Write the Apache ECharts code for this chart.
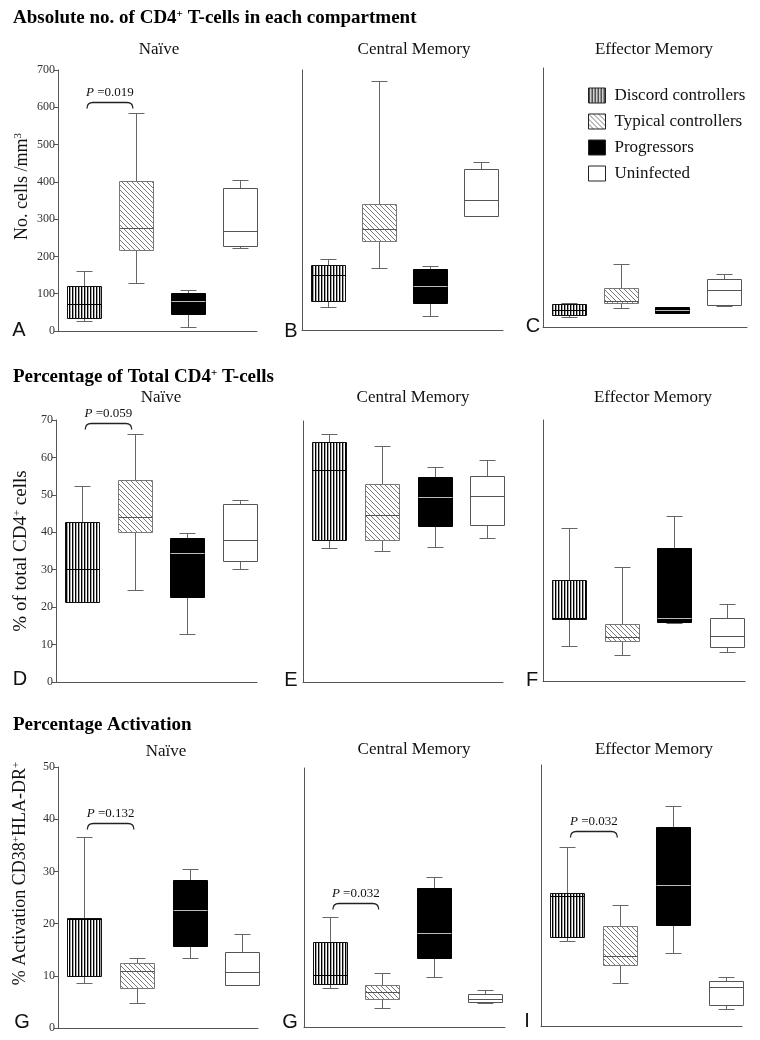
<!DOCTYPE html>
<html><head><meta charset="utf-8">
<script src="https://cdn.jsdelivr.net/npm/echarts@6/dist/echarts.min.js"></script>
<style>html,body{margin:0;padding:0;background:#fff}#chart{width:760px;height:1040px}</style>
</head><body><div id="chart"></div>
<script>
// ---------------- DATA ----------------
const groups = ['Discord controllers', 'Typical controllers', 'Progressors', 'Uninfected'];
const compartments = ['Naïve', 'Central Memory', 'Effector Memory'];
const sectionTitles = ['Absolute no. of CD4{sup|+} T-cells in each compartment', 'Percentage of Total CD4{sup|+} T-cells', 'Percentage Activation'];
const panelLetters = ['A', 'B', 'C', 'D', 'E', 'F', 'G', 'G', 'I'];
const yNames = ['No. cells /mm{sup|3}', '% of total CD4{sup|+} cells', '% Activation CD38{sup|+}HLA-DR{sup|+}'];
const absTicks = [0, 100, 200, 300, 400, 500, 600, 700];
const pctTicks = [0, 10, 20, 30, 40, 50, 60, 70];
const actTicks = [0, 10, 20, 30, 40, 50];

// each box: [min, Q1, median, Q3, max], order = groups
const absNaive    = [[27, 34, 72, 121, 161], [130, 218, 275, 401, 584], [11, 46, 81, 101, 111], [222, 228, 268, 384, 404]];
const absCentral  = [[61, 77, 147, 174, 190], [168, 240, 273, 340, 670], [38, 72, 119, 164, 171], [306, 308, 350, 434, 451]];
const absEffector = [[26, 32, 46, 62, 66], [52, 64, 71, 105, 170], [38, 39, 46, 53, 55], [58, 59, 101, 130, 142]];
const pctNaive    = [[21.3, 21.3, 30.3, 42.8, 52.4], [24.5, 40.0, 44.0, 54.1, 66.2], [12.8, 22.7, 34.4, 38.5, 39.9], [30.2, 32.3, 38.0, 47.6, 48.5]];
const pctCentral  = [[36.0, 38.2, 56.9, 64.5, 66.5], [35.2, 38.2, 44.8, 53.1, 63.4], [36.1, 41.8, 49.7, 54.9, 57.7], [38.7, 42.1, 49.9, 55.2, 59.5]];
const pctEffector = [[9.4, 16.6, 16.8, 27.0, 41.0], [7.0, 10.8, 11.7, 15.2, 30.6], [15.6, 15.9, 16.9, 35.6, 44.2], [7.7, 9.0, 12.0, 16.8, 20.7]];
const actNaive    = [[8.6, 9.9, 20.9, 21.1, 36.6], [4.7, 7.7, 10.9, 12.5, 13.5], [13.5, 15.7, 22.7, 28.3, 30.4], [8.2, 8.2, 10.7, 14.6, 18.1]];
const actCentral  = [[7.5, 8.3, 10.1, 16.5, 21.3], [3.7, 5.5, 6.8, 8.2, 10.5], [9.7, 13.3, 18.1, 26.9, 29.0], [4.7, 4.8, 5.5, 6.4, 7.1]];
const actEffector = [[16.2, 17.0, 24.9, 25.4, 34.2], [8.3, 11.7, 13.4, 19.2, 23.1], [13.9, 19.3, 27.1, 38.2, 42.1], [3.2, 4.0, 7.5, 8.6, 9.3]];
// P-value brackets: panel index, label, value of bracket
const pPanels = [0, 3, 6, 7, 8];
const pLabels = ['0.019', '0.059', '0.132', '0.032', '0.032'];
const pLevels = [615, 69.1, 39.2, 23.9, 37.4];

// ---------------- LAYOUT / STYLE ----------------
const panelData = [absNaive, absCentral, absEffector, pctNaive, pctCentral, pctEffector, actNaive, actCentral, actEffector];
const rowTicks = [absTicks, pctTicks, actTicks];
const grids = [
  {left: 58, top: 70, width: 199, height: 261, xMax: 3.33},
  {left: 302, top: 70, width: 201, height: 260, xMax: 3.43},
  {left: 543, top: 68, width: 204, height: 259, xMax: 3.44},
  {left: 56, top: 420, width: 201, height: 262, xMax: 3.33},
  {left: 303, top: 421, width: 200, height: 261, xMax: 3.3},
  {left: 543, top: 420, width: 202, height: 261, xMax: 3.35},
  {left: 58, top: 767, width: 200, height: 261, xMax: 3.3},
  {left: 304, top: 768, width: 201, height: 259, xMax: 3.38},
  {left: 541, top: 765, width: 201, height: 261, xMax: 3.3}
];
const yNameLayout = [{gap: 27, pad: [0, 0, 0, 28], size: 18}, {gap: 25, pad: [0, 0, 0, 0], size: 19}, {gap: 29, pad: [0, 0, 0, 48], size: 18}];
const subtitlePos = [[159, 50], [414, 50], [654, 50], [161, 398], [413, 398], [653, 398], [166, 752], [414, 750], [654, 750]];
const letterPos = [[19, 330], [291, 331], [533, 326], [20, 679], [291, 680], [532, 680], [22, 1022], [290, 1022], [527, 1021]];
const titlePos = [[13, 18], [13, 377], [13, 725]];
const SERIF = "'Liberation Serif', 'Times New Roman', serif";
const SANS = "'Liberation Sans', Arial, sans-serif";

function stripePattern() {
  const c = document.createElement('canvas');
  c.width = 3; c.height = 4;
  const ctx = c.getContext('2d');
  ctx.fillStyle = '#fff'; ctx.fillRect(0, 0, 3, 4);
  ctx.fillStyle = '#000'; ctx.fillRect(0, 0, 1, 4);
  ctx.fillStyle = '#666'; ctx.fillRect(1, 0, 0.6, 4);
  return {image: c, repeat: 'repeat'};
}
function hatchPattern() {
  const s = 5;
  const c = document.createElement('canvas');
  c.width = s; c.height = s;
  const ctx = c.getContext('2d');
  ctx.fillStyle = '#fff'; ctx.fillRect(0, 0, s, s);
  ctx.strokeStyle = '#7a7a7a'; ctx.lineWidth = 1;
  ctx.beginPath();
  for (let i = -s; i <= s; i += s) { ctx.moveTo(i, 0); ctx.lineTo(i + s, s); }
  ctx.stroke();
  return {image: c, repeat: 'repeat'};
}
const fills = [stripePattern(), hatchPattern(), '#000', '#fff'];
const borders = ['#111', '#777', '#000', '#555'];
const medians = ['#000', '#555', '#bbb', '#555'];
const whiskerColor = '#666';

function px(v) { return Math.round(v) + 0.5; }

function boxRender(g) {
  return function (params, api) {
    const x = api.value(0);
    const p = [1, 2, 3, 4, 5].map(k => api.coord([x, api.value(k)]));
    const cx = px(p[0][0]);
    const yMin = px(p[0][1]), yQ1 = px(p[1][1]), yMed = px(p[2][1]), yQ3 = px(p[3][1]), yMax = px(p[4][1]);
    const hw = 17, cw = 8;
    const wl = {stroke: whiskerColor, lineWidth: 1};
    return {type: 'group', children: [
      {type: 'line', shape: {x1: cx, y1: yQ3, x2: cx, y2: yMax}, style: wl},
      {type: 'line', shape: {x1: cx, y1: yQ1, x2: cx, y2: yMin}, style: wl},
      {type: 'line', shape: {x1: cx - cw, y1: yMax, x2: cx + cw, y2: yMax}, style: wl},
      {type: 'line', shape: {x1: cx - cw, y1: yMin, x2: cx + cw, y2: yMin}, style: wl},
      {type: 'rect', shape: {x: cx - hw, y: yQ3, width: 2 * hw, height: Math.max(1, yQ1 - yQ3)},
        style: {fill: fills[g], stroke: borders[g], lineWidth: 1}},
      {type: 'line', shape: {x1: cx - hw, y1: yMed, x2: cx + hw, y2: yMed}, style: {stroke: medians[g], lineWidth: 1}}
    ]};
  };
}

function bracketRender(label) {
  return function (params, api) {
    const a = api.coord([api.value(0), api.value(2)]);
    const b = api.coord([api.value(1), api.value(2)]);
    const x0 = a[0] + 3, x1 = b[0] - 3, y = px(a[1]);
    return {type: 'group', children: [
      {type: 'path', shape: {pathData: `M${x0},${y + 6} Q${x0},${y} ${x0 + 6},${y} L${x1 - 6},${y} Q${x1},${y} ${x1},${y + 6}`},
        style: {fill: 'none', stroke: '#222', lineWidth: 1.3}},
      {type: 'text', x: (x0 + x1) / 2, y: y - 10,
        style: {text: '{i|P} =' + label, fontSize: 13, fontFamily: SERIF, fill: '#111',
          align: 'center', verticalAlign: 'middle',
          rich: {i: {fontStyle: 'italic', fontSize: 13, fontFamily: SERIF, fill: '#111'}}}}
    ]};
  };
}

const gridOpt = [], xAxes = [], yAxes = [], series = [];
grids.forEach((gp, i) => {
  const row = Math.floor(i / 3), col = i % 3;
  const ticks = rowTicks[row];
  gridOpt.push({left: gp.left, top: gp.top, width: gp.width, height: gp.height});
  xAxes.push({type: 'value', gridIndex: i, min: -0.5, max: gp.xMax,
    axisLine: {show: true, onZero: false, lineStyle: {color: '#555', width: 1}},
    axisTick: {show: false}, axisLabel: {show: false}, splitLine: {show: false}});
  const first = col === 0;
  const ya = {type: 'value', gridIndex: i, min: ticks[0], max: ticks[ticks.length - 1], interval: ticks[1] - ticks[0],
    axisLine: {show: true, onZero: false, lineStyle: {color: '#555', width: 1}},
    axisTick: {show: first, length: 4, lineStyle: {color: '#555'}},
    axisLabel: {show: first, fontFamily: SERIF, fontSize: 12, color: '#333', margin: 3},
    splitLine: {show: false}};
  if (first) {
    const nl = yNameLayout[row];
    ya.name = yNames[row];
    ya.nameLocation = 'middle';
    ya.nameRotate = 90;
    ya.nameGap = nl.gap;
    ya.nameTextStyle = {fontFamily: SERIF, fontSize: nl.size, color: '#111', padding: nl.pad,
      rich: {sup: {fontFamily: SERIF, fontSize: Math.round(nl.size * 0.6), color: '#111', verticalAlign: 'top'}}};
  }
  yAxes.push(ya);
  panelData[i].forEach((box, g) => {
    series.push({type: 'custom', name: groups[g], xAxisIndex: i, yAxisIndex: i, clip: false,
      renderItem: boxRender(g), data: [[g].concat(box)], silent: true, itemStyle: {color: g === 2 ? '#000' : '#fff'}});
  });
});
pPanels.forEach((pi, k) => {
  series.push({type: 'custom', xAxisIndex: pi, yAxisIndex: pi, clip: false, silent: true,
    renderItem: bracketRender(pLabels[k]), data: [[0, 1, pLevels[k]]]});
});

const graphics = [];
sectionTitles.forEach((t, r) => {
  graphics.push({type: 'text', x: titlePos[r][0], y: titlePos[r][1], silent: true,
    style: {text: t, fontSize: 19, fontWeight: 'bold', fontFamily: SERIF, fill: '#000',
      align: 'left', verticalAlign: 'middle',
      rich: {sup: {fontSize: 11, fontWeight: 'bold', fontFamily: SERIF, fill: '#000', verticalAlign: 'top'}}}});
});
subtitlePos.forEach((p, i) => {
  graphics.push({type: 'text', x: p[0], y: p[1], silent: true,
    style: {text: compartments[i % 3], fontSize: 17, fontFamily: SERIF, fill: '#111', align: 'center', verticalAlign: 'middle'}});
});
letterPos.forEach((p, i) => {
  graphics.push({type: 'text', x: p[0], y: p[1], silent: true,
    style: {text: panelLetters[i], fontSize: 20, fontFamily: SANS, fill: '#111', align: 'center', verticalAlign: 'middle'}});
});

const chart = echarts.init(document.getElementById('chart'), null, {renderer: 'canvas'});
chart.setOption({
  animation: false,
  backgroundColor: '#fff',
  grid: gridOpt,
  xAxis: xAxes,
  yAxis: yAxes,
  legend: {show: true, orient: 'vertical', left: 588, top: 87, itemWidth: 17, itemHeight: 15, itemGap: 9,
    selectedMode: false, padding: 0,
    textStyle: {fontFamily: SERIF, fontSize: 17, color: '#111', lineHeight: 17, padding: [0, 0, 0, 4]},
    data: groups.map((n, i) => ({name: n, icon: 'rect', itemStyle: {color: fills[i], borderColor: '#222', borderWidth: 1}}))},
  graphic: graphics,
  series: series
});
</script></body></html>
